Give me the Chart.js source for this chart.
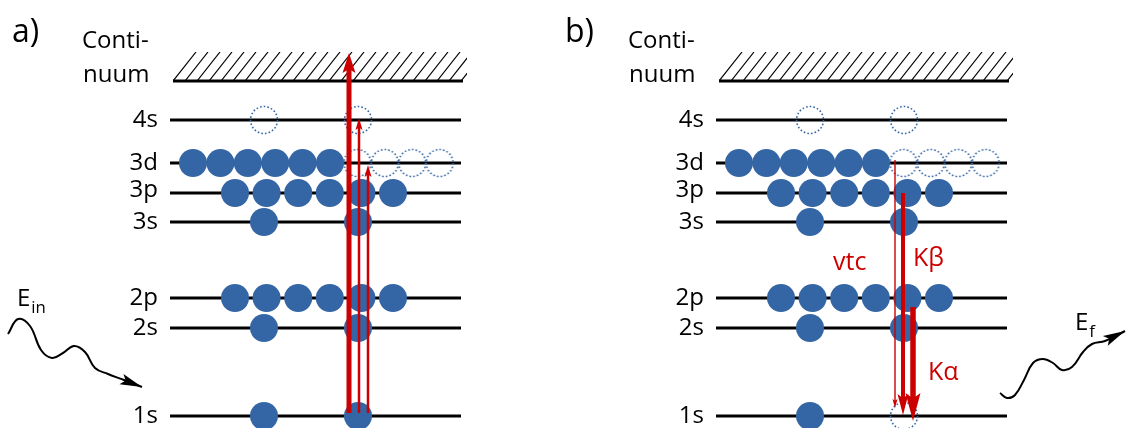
<!DOCTYPE html>
<html>
<head>
<meta charset="utf-8">
<script src="https://cdn.jsdelivr.net/npm/chart.js@4.4.0/dist/chart.umd.min.js"></script>
<style>
  body { margin: 0; background: #fff; }
  .panel { position: absolute; top: 0; height: 428px; }
  #panelA { left: 0; width: 546px; }
  #panelB { left: 546px; width: 580px; }
</style>
</head>
<body>
<div class="panel" id="panelA"><canvas id="chartA"></canvas></div>
<div class="panel" id="panelB"><canvas id="chartB"></canvas></div>
<script>
// energy levels (arbitrary units, 1s = 0)
const levelNames = ['1s', '2s', '2p', '3s', '3p', '3d', '4s'];
const levelEnergy = [0, 88, 118, 194, 223, 253, 296];
const shellCapacity = [2, 2, 6, 2, 6, 10, 2];
const continuumEnergy = 335;
const continuumTop = 364;

// electrons per level: a) before absorption, b) with the 1s core hole
const occupancyA = [2, 2, 6, 2, 6, 6, 0];
const occupancyB = [1, 2, 6, 2, 6, 6, 0];

// transitions [from, to, label]
const excitations = [['1s', 'Continuum', ''], ['1s', '4s', ''], ['1s', '3d', '']];
const emissions = [['3d', '1s', 'vtc'], ['3p', '1s', 'Kβ'], ['2p', '1s', 'Kα']];

// photon paths [x, energy]
const photonIn = [[8, 82], [18, 97], [30, 90], [41, 66], [52, 58], [63, 63], [74, 70], [85, 64], [95, 48], [108, 42], [124, 36], [142, 29]];
const photonOut = [[454, 23], [461, 18], [469, 21], [478, 36], [487, 53], [497, 57], [507, 53], [516, 46], [526, 49], [537, 64], [546, 72], [559, 75], [579, 85]];

/////////////////////// LAYOUT ///////////////////////
const blue = '#3465a4';
const red = '#cc0000';
const font = '"Open Sans", "Noto Sans", sans-serif';
const levelSpan = [170, 461];
const continuumSpan = [173, 463];
const slotLayout = { s: [264, 94], p: [235, 31.6], d: [193, 27.4] };
const electronRadius = 14;

const energyOf = (name) => (name === 'Continuum' ? continuumTop : levelEnergy[levelNames.indexOf(name)]);

// x position, shaft width, head [width, length], start/end offsets
const arrowStyleA = [
  { x: 349, lw: 5, head: [13, 20], d0: 3, d1: -1 },
  { x: 359, lw: 2.5, head: [7, 12], d0: 3, d1: 2 },
  { x: 368, lw: 2.5, head: [7, 12], d0: 3, d1: -2 },
];
const arrowStyleB = [
  { x: 349, lw: 1.4, head: [5, 9], d0: 3, d1: 8 },
  { x: 357, lw: 4, head: [11, 21], d0: 0, d1: 1 },
  { x: 367, lw: 5.5, head: [15, 28], d0: -9, d1: -5 },
];

function dottedCircle(r) {
  const c = document.createElement('canvas');
  const size = Math.ceil(2 * r + 4);
  c.width = c.height = size;
  const g = c.getContext('2d');
  g.strokeStyle = blue;
  g.lineWidth = 1.6;
  g.setLineDash([1.6, 2.1]);
  g.beginPath();
  g.arc(size / 2, size / 2, r - 0.5, 0, Math.PI * 2);
  g.stroke();
  return c;
}
const emptySlot = dottedCircle(electronRadius);

function buildDatasets(occupancy, photon) {
  const sets = [];
  const filled = [];
  const empty = [];
  levelNames.forEach((name, i) => {
    const [x0, step] = slotLayout[name[1]];
    for (let k = 0; k < shellCapacity[i]; k++) {
      const pt = { x: x0 + k * step, y: levelEnergy[i] };
      (k < occupancy[i] ? filled : empty).push(pt);
    }
  });
  sets.push({ data: filled, pointRadius: electronRadius, backgroundColor: blue, borderWidth: 0, order: 1 });
  sets.push({ data: empty, pointStyle: emptySlot, pointRadius: electronRadius, order: 1 });

  levelEnergy.forEach((e) => {
    sets.push({
      type: 'line',
      data: [{ x: levelSpan[0], y: e }, { x: levelSpan[1], y: e }],
      borderColor: '#000', borderWidth: 3, pointRadius: 0, order: 3,
    });
  });
  sets.push({
    type: 'line',
    data: [{ x: continuumSpan[0], y: continuumEnergy }, { x: continuumSpan[1], y: continuumEnergy }],
    borderColor: '#000', borderWidth: 3, pointRadius: 0, order: 3,
  });
  sets.push({
    type: 'line',
    data: photon.map(([x, y]) => ({ x, y })),
    borderColor: '#000', borderWidth: 2, pointRadius: 0, tension: 0.4, order: 2,
  });
  return sets;
}

function arrowHead(ctx, tx, ty, ux, uy, w, l) {
  // tip at (tx, ty), pointing along unit vector (ux, uy)
  const bx = tx - ux * l, by = ty - uy * l;
  const nx = -uy, ny = ux;
  ctx.beginPath();
  ctx.moveTo(tx, ty);
  ctx.lineTo(bx + nx * w / 2, by + ny * w / 2);
  ctx.lineTo(tx - ux * l * 0.8, ty - uy * l * 0.8);
  ctx.lineTo(bx - nx * w / 2, by - ny * w / 2);
  ctx.closePath();
  ctx.fill();
}

const hatchPlugin = {
  id: 'hatch',
  beforeDatasetsDraw(chart) {
    const { ctx, scales: { x, y } } = chart;
    const left = x.getPixelForValue(continuumSpan[0]);
    const right = x.getPixelForValue(continuumSpan[1] + 4);
    const bottom = y.getPixelForValue(continuumEnergy);
    const top = y.getPixelForValue(continuumTop);
    ctx.save();
    ctx.beginPath();
    ctx.rect(left, top, right - left, bottom - top);
    ctx.clip();
    ctx.strokeStyle = '#000';
    ctx.lineWidth = 1.2;
    ctx.beginPath();
    for (let bx = left; bx < right; bx += 12) {
      ctx.moveTo(bx, bottom);
      ctx.lineTo(bx + 23, top);
    }
    ctx.stroke();
    ctx.restore();
  },
};

const arrowPlugin = {
  id: 'arrows',
  afterDatasetsDraw(chart, args, opts) {
    const { ctx, scales: { x, y } } = chart;
    ctx.save();
    ctx.fillStyle = red;
    ctx.strokeStyle = red;
    opts.transitions.forEach(([from, to], i) => {
      const s = opts.styles[i];
      const px = x.getPixelForValue(s.x);
      const y0 = y.getPixelForValue(energyOf(from) + s.d0);
      const y1 = y.getPixelForValue(energyOf(to) + s.d1);
      const dir = y1 < y0 ? -1 : 1;
      ctx.lineWidth = s.lw;
      ctx.beginPath();
      ctx.moveTo(px, y0);
      ctx.lineTo(px, y1 - dir * s.head[1] * 0.7);
      ctx.stroke();
      arrowHead(ctx, px, y1, 0, dir, s.head[0], s.head[1]);
    });
    // photon arrow head
    const p = opts.photon;
    const [ax, ay] = p[p.length - 2];
    const [bx, by] = p[p.length - 1];
    const tx = x.getPixelForValue(bx), ty = y.getPixelForValue(by);
    const dx = tx - x.getPixelForValue(ax), dy = ty - y.getPixelForValue(ay);
    const len = Math.hypot(dx, dy);
    ctx.fillStyle = '#000';
    arrowHead(ctx, tx, ty, dx / len, dy / len, 11, 22);
    ctx.restore();
  },
};

const textPlugin = {
  id: 'texts',
  afterDraw(chart, args, opts) {
    const { ctx, scales: { x, y } } = chart;
    ctx.save();
    ctx.textBaseline = 'alphabetic';
    opts.items.forEach((t) => {
      ctx.font = `${t.size}px ${font}`;
      ctx.fillStyle = t.color || '#000';
      ctx.textAlign = t.align || 'left';
      const px = x.getPixelForValue(t.x);
      const py = y.getPixelForValue(t.y);
      ctx.fillText(t.text, px, py);
      if (t.sub) {
        const w = ctx.measureText(t.text).width;
        ctx.font = `${t.size * 0.7}px ${font}`;
        ctx.fillText(t.sub, px + w + 1, py + 7);
      }
    });
    ctx.restore();
  },
};

function panelTexts(title, titleX) {
  const items = [
    { text: title, x: titleX, y: 374, size: 32 },
    { text: 'Conti-', x: 82, y: 368, size: 24 },
    { text: 'nuum', x: 83, y: continuumEnergy - 1, size: 24 },
  ];
  levelNames.forEach((name, i) => {
    const lift = name === '3p' ? 3 : 0;
    items.push({ text: name, x: 158, y: levelEnergy[i] - 7 + lift, size: 24, align: 'right' });
  });
  return items;
}

function makeChart(id, width, occupancy, photon, transitions, styles, texts) {
  return new Chart(document.getElementById(id), {
    type: 'scatter',
    data: { datasets: buildDatasets(occupancy, photon) },
    options: {
      responsive: true,
      maintainAspectRatio: false,
      animation: false,
      events: [],
      layout: { padding: 0, autoPadding: false },
      plugins: {
        legend: { display: false },
        tooltip: { enabled: false },
        arrows: { transitions, styles, photon },
        texts: { items: texts },
      },
      scales: {
        x: { type: 'linear', display: false, min: 0, max: width },
        y: { type: 'linear', display: false, min: -12, max: 416 },
      },
    },
    plugins: [hatchPlugin, arrowPlugin, textPlugin],
  });
}

const textsA = panelTexts('a)', 12).concat([
  { text: 'E', sub: 'in', x: 17, y: 110, size: 24 },
]);
const textsB = panelTexts('b)', 19).concat([
  { text: 'E', sub: 'f', x: 529, y: 86, size: 24 },
  { text: emissions[0][2], x: 287, y: 146, size: 25, color: red },
  { text: emissions[1][2], x: 367, y: 150, size: 25, color: red },
  { text: emissions[2][2], x: 382, y: 36, size: 25, color: red },
]);

makeChart('chartA', 546, occupancyA, photonIn, excitations, arrowStyleA, textsA);
makeChart('chartB', 580, occupancyB, photonOut, emissions, arrowStyleB, textsB);
</script>
</body>
</html>
